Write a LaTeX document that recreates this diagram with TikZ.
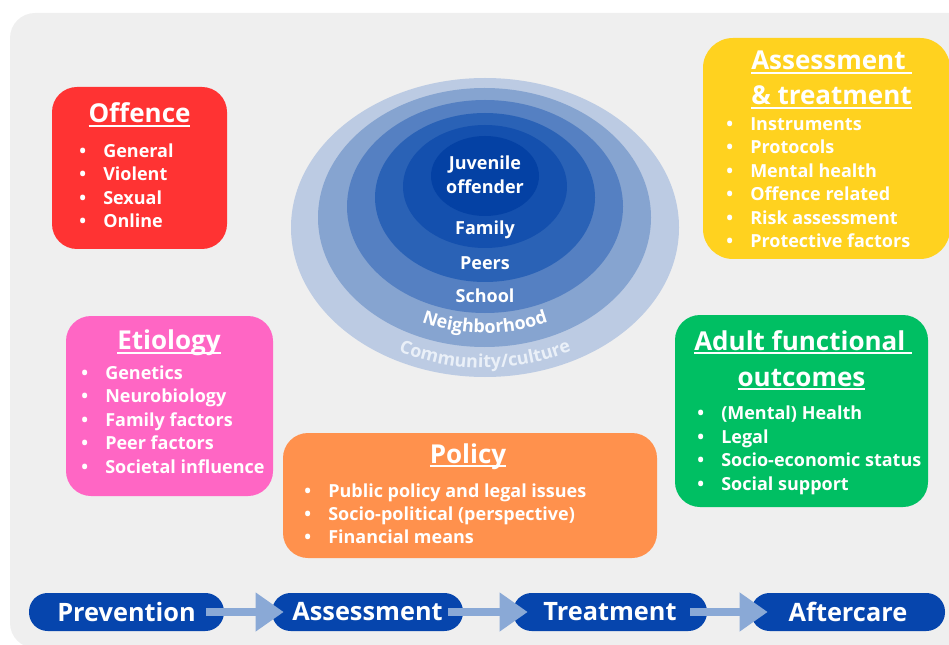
\documentclass[tikz,border=0pt]{standalone}
\usepackage{fontspec}
\setmainfont{Open Sans}
\usetikzlibrary{arrows.meta,decorations.text,shapes.geometric}
\definecolor{bggray}{HTML}{EFEFEF}
\definecolor{offred}{HTML}{FF3333}
\definecolor{asyellow}{HTML}{FFD21F}
\definecolor{etpink}{HTML}{FF66C4}
\definecolor{polorange}{HTML}{FF914D}
\definecolor{adgreen}{HTML}{00BF63}
\definecolor{pillblue}{HTML}{0645AD}
\definecolor{arrowblue}{HTML}{8AA9D6}
\definecolor{ringA}{HTML}{BCCBE3}
\definecolor{ringB}{HTML}{86A4D0}
\definecolor{ringC}{HTML}{5580C2}
\definecolor{ringD}{HTML}{2A62B6}
\definecolor{ringE}{HTML}{1450AE}
\definecolor{ringF}{HTML}{0441A4}
\definecolor{palewhite}{HTML}{EAF0F8}
\newsavebox\ulbox
\newcommand\myul[1]{\sbox\ulbox{#1}\rlap{\raisebox{-3.2pt}{\rule{\wd\ulbox}{1.4pt}}}\usebox\ulbox}
\newcommand\bul{\makebox[18pt][l]{•}}
\begin{document}
\begin{tikzpicture}[x=0.75pt,y=-0.75pt,
  panel/.style={rounded corners=18.75pt, inner sep=0pt, outer sep=0pt, anchor=north west, draw=none},
  ring/.style={ellipse, inner sep=0pt, draw=none},
  title/.style={inner sep=0pt, text=white, font=\fontsize{19.5}{23}\selectfont\bfseries},
  item/.style={anchor=base west, inner sep=0pt, text=white, font=\fontsize{13.5}{16}\selectfont\bfseries},
  lab/.style={anchor=base, inner sep=0pt, text=white, font=\fontsize{13.5}{16}\selectfont\bfseries},
  pill/.style={fill=pillblue, rounded corners=14pt, minimum height=28.5pt, inner sep=0pt, text=white, font=\fontsize{19}{22}\selectfont\bfseries},
  flow/.style={draw=arrowblue, line width=6.5pt, -{Triangle[width=27.75pt,length=21pt]}}
]
\useasboundingbox (0,0) rectangle (949,645);
% background
\node[panel, fill=bggray, minimum width=980*0.75pt, minimum height=635*0.75pt] (bg) at (10,13) {};

% panels
\node[panel, fill=offred, minimum width=175*0.75pt, minimum height=162*0.75pt] (offence) at (52,87) {};
\node[panel, fill=asyellow, rounded corners=22.5pt, minimum width=247*0.75pt, minimum height=221*0.75pt] (assess) at (703,38) {};
\node[panel, fill=etpink, minimum width=207*0.75pt, minimum height=180*0.75pt] (etio) at (66,316) {};
\node[panel, fill=polorange, minimum width=374*0.75pt, minimum height=125*0.75pt] (policy) at (283,433) {};
\node[panel, fill=adgreen, minimum width=253*0.75pt, minimum height=192*0.75pt] (adult) at (675,315) {};

% Offence
\node[title, anchor=base] (offT) at (139.5,123) {\myul{Offence}};
\foreach \t [count=\i] in {General,Violent,Sexual,Online}
  \node[item] (off\i) at (79,{157.5+23.4*(\i-1)}) {\bul\t};

% Assessment & treatment
\node[title, anchor=base west] (asT1) at (751,70) {\myul{Assessment\ }};
\node[title, anchor=base west] (asT2) at (751,105) {\myul{\& treatment}};
\foreach \t [count=\i] in {Instruments,Protocols,Mental health,Offence related,Risk assessment,Protective factors}
  \node[item] (as\i) at (726,{130.5+23.4*(\i-1)}) {\bul\t};

% Etiology
\node[title, anchor=base] (etT) at (169,349.5) {\myul{Etiology}};
\foreach \t [count=\i] in {Genetics,Neurobiology,Family factors,Peer factors,Societal influence}
  \node[item] (et\i) at (81,{379.5+23.4*(\i-1)}) {\bul\t};

% Policy
\node[title, anchor=base] (poT) at (468,463) {\myul{Policy}};
\foreach \t [count=\i] in {Public policy and legal issues,Socio-political (perspective),Financial means}
  \node[item] (po\i) at (304,{497+23.2*(\i-1)}) {\bul\t};

% Adult functional outcomes
\node[title, anchor=base west] (adT1) at (694,350) {\myul{Adult functional\ }};
\node[title, anchor=base] (adT2) at (801.5,386) {\myul{outcomes}};
\foreach \t [count=\i] in {(Mental) Health,Legal,Socio-economic status,Social support}
  \node[item] (ad\i) at (697,{419.5+23.6*(\i-1)}) {\bul\t};

% ecological rings
\node[ring, fill=ringA, minimum width=388*0.75pt, minimum height=299*0.75pt] (r1) at (485,227.5) {};
\node[ring, fill=ringB, minimum width=333*0.75pt, minimum height=259*0.75pt] (r2) at (484.5,217.5) {};
\node[ring, fill=ringC, minimum width=276*0.75pt, minimum height=213*0.75pt] (r3) at (485,206.5) {};
\node[ring, fill=ringD, minimum width=220*0.75pt, minimum height=169*0.75pt] (r4) at (485,197.5) {};
\node[ring, fill=ringE, minimum width=164*0.75pt, minimum height=123*0.75pt] (r5) at (485,186.5) {};
\node[ring, fill=ringF, minimum width=108*0.75pt, minimum height=80*0.75pt] (r6) at (485,176) {};

\node[lab] (juv) at (485,170) {Juvenile};
\node[lab] (offd) at (485,194) {offender};
\node[lab] (fam) at (485,235) {Family};
\node[lab] (peer) at (485,270) {Peers};
\node[lab] (school) at (485,302) {School};
\path[decorate, decoration={text along path, text align=center, text color=white,
   text={|\fontsize{13.5}{16}\selectfont\bfseries|Neighborhood}}]
   plot[domain=165:15, samples=80] ({485+150*cos(\x)},{217+116*sin(\x)});
\path[decorate, decoration={text along path, text align=center, text color=palewhite,
   text={|\fontsize{13.5}{16}\selectfont\bfseries|Community/culture}}]
   plot[domain=165:15, samples=80] ({485+178*cos(\x)},{234+134*sin(\x)});

% process bar
\node[pill, minimum width=195*0.75pt] (prev) at (126.5,612) {Prevention};
\node[pill, minimum width=191*0.75pt] (asmt) at (367.5,612) {Assessment};
\node[pill, minimum width=194*0.75pt] (treat) at (610,612) {Treatment};
\node[pill, minimum width=194*0.75pt] (after) at (848,612) {Aftercare};
\draw[flow] ([xshift=-13.5pt]prev.east) -- ([xshift=9pt]asmt.west);
\draw[flow] ([xshift=-11.25pt]asmt.east) -- ([xshift=11.25pt]treat.west);
\draw[flow] ([xshift=-12.75pt]treat.east) -- ([xshift=12.75pt]after.west);
\end{tikzpicture}
\end{document}
